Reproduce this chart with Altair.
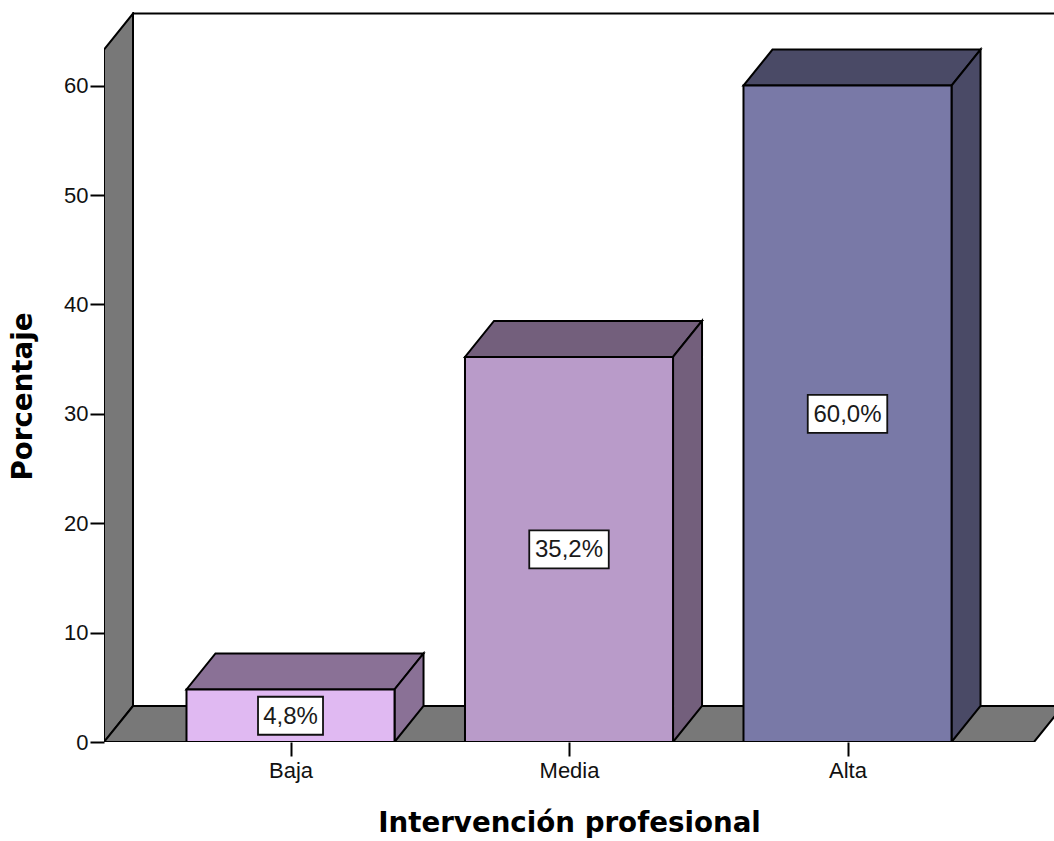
import json
import altair as alt
import pandas as pd

# ---- chart data -------------------------------------------------------------
categories = ["Baja", "Media", "Alta"]
percentages = [4.8, 35.2, 60.0]
value_labels = ["4,8%", "35,2%", "60,0%"]
y_ticks = [0, 10, 20, 30, 40, 50, 60]

front_colors = ["#e0b9f2", "#b99bc9", "#7979a7"]
shade_colors = ["#8a7196", "#735f7c", "#4a4a66"]
wall_color = "#787878"

# ---- 3-D box geometry (x in category units, y in percent) -------------------
PX_PER_X = 278.5          # pixels per category step
PX_PER_Y = 10.94          # pixels per percent
W, H = 950, 730           # plot area size
X_LEFT = -0.6697          # front edge of the floor / left wall
X_RIGHT = 2.6697
HALF = 0.3735             # half bar width
DX = 29 / PX_PER_X        # depth offset
DY = 36 / PX_PER_Y
WALL_TOP = 63.3
X_DOMAIN = [X_LEFT, X_LEFT + W / PX_PER_X]
Y_DOMAIN = [0, H / PX_PER_Y]

xs = alt.Scale(domain=X_DOMAIN, nice=False, zero=False)
ys = alt.Scale(domain=Y_DOMAIN, nice=False, zero=False)
STROKE = dict(stroke="black", strokeWidth=2, strokeJoin="miter")


def area_rows(poly, fill, pts):
    return [dict(poly=poly, fill=fill, x=x, lo=lo, hi=hi) for x, lo, hi in pts]


# left wall and floor
frame_rows = []
frame_rows += area_rows("wall", wall_color, [
    (X_LEFT, 0, WALL_TOP), (X_LEFT + DX, DY, WALL_TOP + DY)])
frame_rows += area_rows("floor", wall_color, [
    (X_LEFT, 0, 0), (X_LEFT + DX, 0, DY), (X_RIGHT, 0, DY), (X_RIGHT + DX, DY, DY)])
frame = pd.DataFrame(frame_rows)

# top and side faces of each bar
shade_rows = []
front_rows = []
box_rows = []
for i, (cat, v, lab) in enumerate(zip(categories, percentages, value_labels)):
    a, b = i - HALF, i + HALF
    shade_rows += area_rows(f"top{i}", shade_colors[i], [
        (a, v, v), (a + DX, v, v + DY), (b, v, v + DY), (b + DX, v + DY, v + DY)])
    shade_rows += area_rows(f"side{i}", shade_colors[i], [
        (b, 0, v), (b + DX, DY, v + DY)])
    front_rows.append(dict(cat=cat, x=a, x2=b, y=0, y2=v, fill=front_colors[i]))
    bw = (7 + 14.5 * len(lab)) / 2 / PX_PER_X
    bh = 19 / PX_PER_Y
    box_rows.append(dict(label=lab, xc=i, x=i - bw, x2=i + bw,
                         yc=v / 2, y=v / 2 - bh, y2=v / 2 + bh))
shades = pd.DataFrame(shade_rows)
fronts = pd.DataFrame(front_rows)
boxes = pd.DataFrame(box_rows)

back = pd.DataFrame([dict(x=X_LEFT + DX, x2=X_RIGHT + DX, y=DY, y2=WALL_TOP + DY)])

label_expr = f"{json.dumps(categories)}[datum.value]"

x_axis = alt.Axis(
    values=[0, 1, 2], labelExpr=label_expr, grid=False, domain=False,
    tickSize=14, tickWidth=2, tickColor="black",
    labelFont="Liberation Sans", labelFontSize=22, labelColor="#111", labelPadding=4,
    title="Intervención profesional", titleFont="DejaVu Sans", titleFontSize=27.7,
    titleFontWeight="bold", titleColor="black", titleX=465, titleY=89,
    titleAlign="center", titleBaseline="alphabetic",
)
y_axis = alt.Axis(
    values=y_ticks, grid=False, domain=False,
    tickSize=14, tickWidth=2, tickColor="black",
    labelFont="Liberation Sans", labelFontSize=22, labelColor="#111", labelPadding=2,
    title="Porcentaje", titleFont="DejaVu Sans", titleFontSize=27.7,
    titleFontWeight="bold", titleColor="black", titleX=-81, titleY=384,
    titleAngle=270, titleAlign="center", titleBaseline="middle",
)

X = lambda f: alt.X(f, scale=xs, axis=x_axis)
Y = lambda f: alt.Y(f, scale=ys, axis=y_axis, stack=None)

back_wall = alt.Chart(back).mark_rect(fill="white", clip=True, **STROKE).encode(
    x=X("x:Q"), x2="x2:Q", y=Y("y:Q"), y2="y2:Q",
)

frame_layer = alt.Chart(frame).mark_area(clip=True, **STROKE).encode(
    x=X("x:Q"), y=Y("lo:Q"), y2="hi:Q",
    fill=alt.Fill("fill:N", scale=None), detail="poly:N",
)

shade_layer = alt.Chart(shades).mark_area(clip=True, **STROKE).encode(
    x=X("x:Q"), y=Y("lo:Q"), y2="hi:Q",
    fill=alt.Fill("fill:N", scale=None), detail="poly:N",
)

front_layer = alt.Chart(fronts).mark_rect(clip=True, **STROKE).encode(
    x=X("x:Q"), x2="x2:Q", y=Y("y:Q"), y2="y2:Q",
    fill=alt.Fill("fill:N", scale=None),
)

box_layer = alt.Chart(boxes).mark_rect(fill="white", stroke="#111", strokeWidth=1.8).encode(
    x=X("x:Q"), x2="x2:Q", y=Y("y:Q"), y2="y2:Q",
)

text_layer = alt.Chart(boxes).mark_text(
    font="Liberation Sans", fontSize=24, color="#1a1a1a", baseline="middle", dy=1,
).encode(
    x=X("xc:Q"), y=Y("yc:Q"), text="label:N",
)

chart = alt.layer(
    back_wall, frame_layer, shade_layer, front_layer, box_layer, text_layer
).properties(
    width=W, height=H,
    autosize=alt.AutoSizeParams(type="none"),
    padding={"left": 104, "top": 12, "right": 0, "bottom": 99},
    background="white",
).configure_view(stroke=None)

chart.save("out.html", embed_options={"renderer": "svg", "actions": False})
